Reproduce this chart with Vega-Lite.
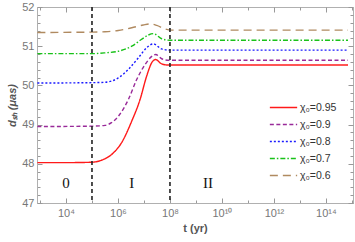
{
  "$schema": "https://vega.github.io/schema/vega-lite/v6.json",
  "width": 316,
  "height": 196,
  "autosize": {"type": "none"},
  "padding": {"left": 37, "top": 7, "right": 2, "bottom": 39},
  "config": {
    "view": {"stroke": "#b0b0b0", "strokeWidth": 1},
    "font": "Liberation Sans",
    "axis": {"domainColor": "#b0b0b0", "tickColor": "#999999", "labelColor": "#777777", "labelFont": "Liberation Sans", "labelFontSize": 11, "grid": false, "titleColor": "#555555", "titleFont": "Liberation Sans"}
  },
  "datasets": {
    "curves": [
      {"chi": "0.95", "t": 794, "d": 48.03},
      {"chi": "0.95", "t": 10000, "d": 48.03},
      {"chi": "0.95", "t": 100000, "d": 48.04},
      {"chi": "0.95", "t": 251189, "d": 48.1},
      {"chi": "0.95", "t": 575440, "d": 48.24},
      {"chi": "0.95", "t": 1380384, "d": 48.54},
      {"chi": "0.95", "t": 3388442, "d": 49.09},
      {"chi": "0.95", "t": 7079458, "d": 49.64},
      {"chi": "0.95", "t": 12589254, "d": 50.23},
      {"chi": "0.95", "t": 19952623, "d": 50.58},
      {"chi": "0.95", "t": 28183829, "d": 50.66},
      {"chi": "0.95", "t": 47863009, "d": 50.55},
      {"chi": "0.95", "t": 85113804, "d": 50.52},
      {"chi": "0.95", "t": 7.08e14, "d": 50.52},
      {"chi": "0.9", "t": 794, "d": 48.95},
      {"chi": "0.9", "t": 100000, "d": 48.96},
      {"chi": "0.9", "t": 316228, "d": 48.98},
      {"chi": "0.9", "t": 562341, "d": 49.05},
      {"chi": "0.9", "t": 1023293, "d": 49.21},
      {"chi": "0.9", "t": 2511886, "d": 49.64},
      {"chi": "0.9", "t": 5248075, "d": 50.15},
      {"chi": "0.9", "t": 10964782, "d": 50.53},
      {"chi": "0.9", "t": 19952623, "d": 50.74},
      {"chi": "0.9", "t": 28183829, "d": 50.79},
      {"chi": "0.9", "t": 47863009, "d": 50.68},
      {"chi": "0.9", "t": 89125094, "d": 50.64},
      {"chi": "0.9", "t": 7.08e14, "d": 50.64},
      {"chi": "0.8", "t": 794, "d": 50.06},
      {"chi": "0.8", "t": 100000, "d": 50.07},
      {"chi": "0.8", "t": 316228, "d": 50.08},
      {"chi": "0.8", "t": 1023293, "d": 50.19},
      {"chi": "0.8", "t": 2511886, "d": 50.41},
      {"chi": "0.8", "t": 6025596, "d": 50.7},
      {"chi": "0.8", "t": 12589254, "d": 50.96},
      {"chi": "0.8", "t": 22908677, "d": 51.06},
      {"chi": "0.8", "t": 47863009, "d": 50.93},
      {"chi": "0.8", "t": 100000000, "d": 50.9},
      {"chi": "0.8", "t": 7.08e14, "d": 50.9},
      {"chi": "0.7", "t": 794, "d": 50.81},
      {"chi": "0.7", "t": 100000, "d": 50.81},
      {"chi": "0.7", "t": 316228, "d": 50.83},
      {"chi": "0.7", "t": 1023293, "d": 50.87},
      {"chi": "0.7", "t": 3388442, "d": 51.0},
      {"chi": "0.7", "t": 7943282, "d": 51.17},
      {"chi": "0.7", "t": 14125375, "d": 51.28},
      {"chi": "0.7", "t": 22908677, "d": 51.32},
      {"chi": "0.7", "t": 47863009, "d": 51.19},
      {"chi": "0.7", "t": 100000000, "d": 51.15},
      {"chi": "0.7", "t": 7.08e14, "d": 51.15},
      {"chi": "0.6", "t": 794, "d": 51.35},
      {"chi": "0.6", "t": 100000, "d": 51.36},
      {"chi": "0.6", "t": 316228, "d": 51.37},
      {"chi": "0.6", "t": 1023293, "d": 51.4},
      {"chi": "0.6", "t": 3388442, "d": 51.47},
      {"chi": "0.6", "t": 9332543, "d": 51.54},
      {"chi": "0.6", "t": 16982437, "d": 51.57},
      {"chi": "0.6", "t": 30902954, "d": 51.53},
      {"chi": "0.6", "t": 64565423, "d": 51.44},
      {"chi": "0.6", "t": 112201845, "d": 51.41},
      {"chi": "0.6", "t": 7.08e14, "d": 51.41}
    ],
    "bounds": [{"t": 100000}, {"t": 100000000}],
    "phases": [
      {"t": 10000, "d": 47.52, "label": "0"},
      {"t": 3388442, "d": 47.52, "label": "I"},
      {"t": 2.9e9, "d": 47.52, "label": "II"}
    ]
  },
  "resolve": {"axis": {"x": "independent", "y": "independent"}},
  "layer": [
    {
      "data": {"name": "curves"},
      "mark": {"type": "line", "interpolate": "monotone", "strokeWidth": 1.4, "clip": true},
      "encoding": {
        "x": {"field": "t", "type": "quantitative",
          "scale": {"type": "log", "domain": [767, 1.1e15], "nice": false},
          "axis": {"orient": "bottom", "title": "t (yr)", "titleFontWeight": "bold", "titleFontSize": 11, "titlePadding": 4,
            "values": [1000, 10000, 100000, 1000000, 10000000, 100000000, 1000000000, 10000000000, 100000000000, 1000000000000, 10000000000000, 100000000000000, 1000000000000000],
            "tickSize": {"condition": {"test": "round(log(datum.value)/LN10) % 2 === 0", "value": -5}, "value": -3},
            "labelPadding": 9,
            "labelExpr": "round(log(datum.value)/LN10)==4 ? '10⁴' : round(log(datum.value)/LN10)==6 ? '10⁶' : round(log(datum.value)/LN10)==8 ? '10⁸' : round(log(datum.value)/LN10)==10 ? '10¹⁰' : round(log(datum.value)/LN10)==12 ? '10¹²' : round(log(datum.value)/LN10)==14 ? '10¹⁴' : ''"}
        },
        "y": {"field": "d", "type": "quantitative",
          "scale": {"domain": [47, 52], "nice": false, "zero": false},
          "axis": {"orient": "left", "title": "dₛₕ (μas)", "titleFontWeight": "bold", "titleFontStyle": "italic", "titleFontSize": 11, "titlePadding": 4,
            "values": [47, 47.2, 47.4, 47.6, 47.8, 48, 48.2, 48.4, 48.6, 48.8, 49, 49.2, 49.4, 49.6, 49.8, 50, 50.2, 50.4, 50.6, 50.8, 51, 51.2, 51.4, 51.6, 51.8, 52],
            "tickSize": {"condition": {"test": "abs(datum.value - round(datum.value)) < 0.01", "value": -5}, "value": -3},
            "labelPadding": 8,
            "labelExpr": "abs(datum.value - round(datum.value)) < 0.01 ? format(datum.value, 'd') : ''"}
        },
        "color": {"field": "chi", "type": "nominal",
          "scale": {"domain": ["0.95", "0.9", "0.8", "0.7", "0.6"], "range": ["#ff1a1a", "#992a99", "#1a1aff", "#19c219", "#b08a60"]},
          "legend": {"title": null, "orient": "none", "legendX": 235, "legendY": 89, "padding": 0, "rowPadding": 0, "symbolType": "M-1.3,0H1.3", "symbolSize": 441, "symbolStrokeWidth": 1.6, "labelFont": "Liberation Sans", "labelFontSize": 10.5, "labelColor": "#333333", "labelOffset": 5, "labelExpr": "'χ₀=' + datum.label"}
        },
        "strokeDash": {"field": "chi", "type": "nominal",
          "scale": {"domain": ["0.95", "0.9", "0.8", "0.7", "0.6"], "range": [[1, 0], [4, 2.5], [2, 2], [5, 2, 1.5, 2], [8, 5]]},
          "legend": {"title": null, "orient": "none", "legendX": 235, "legendY": 89, "padding": 0, "rowPadding": 0, "symbolType": "M-1.3,0H1.3", "symbolSize": 441, "symbolStrokeWidth": 1.6, "labelFont": "Liberation Sans", "labelFontSize": 10.5, "labelColor": "#333333", "labelOffset": 5, "labelExpr": "'χ₀=' + datum.label"}
        }
      }
    },
    {
      "data": {"name": "bounds"},
      "mark": {"type": "rule", "strokeDash": [4, 3], "color": "#222222", "strokeWidth": 1.6},
      "encoding": {
        "x": {"field": "t", "type": "quantitative", "axis": null}
      }
    },
    {
      "data": {"name": "phases"},
      "mark": {"type": "text", "font": "Liberation Serif", "fontSize": 15, "color": "#111111", "baseline": "middle", "align": "center"},
      "encoding": {
        "x": {"field": "t", "type": "quantitative",
          "axis": {"orient": "top", "labels": false, "title": null, "domain": false,
            "values": [1000, 10000, 100000, 1000000, 10000000, 100000000, 1000000000, 10000000000, 100000000000, 1000000000000, 10000000000000, 100000000000000, 1000000000000000],
            "tickSize": {"condition": {"test": "round(log(datum.value)/LN10) % 2 === 0", "value": -5}, "value": -3}}},
        "y": {"field": "d", "type": "quantitative",
          "axis": {"orient": "right", "labels": false, "title": null, "domain": false,
            "values": [47, 47.2, 47.4, 47.6, 47.8, 48, 48.2, 48.4, 48.6, 48.8, 49, 49.2, 49.4, 49.6, 49.8, 50, 50.2, 50.4, 50.6, 50.8, 51, 51.2, 51.4, 51.6, 51.8, 52],
            "tickSize": {"condition": {"test": "abs(datum.value - round(datum.value)) < 0.01", "value": -5}, "value": -3}}},
        "text": {"field": "label", "type": "nominal"}
      }
    }
  ]
}
